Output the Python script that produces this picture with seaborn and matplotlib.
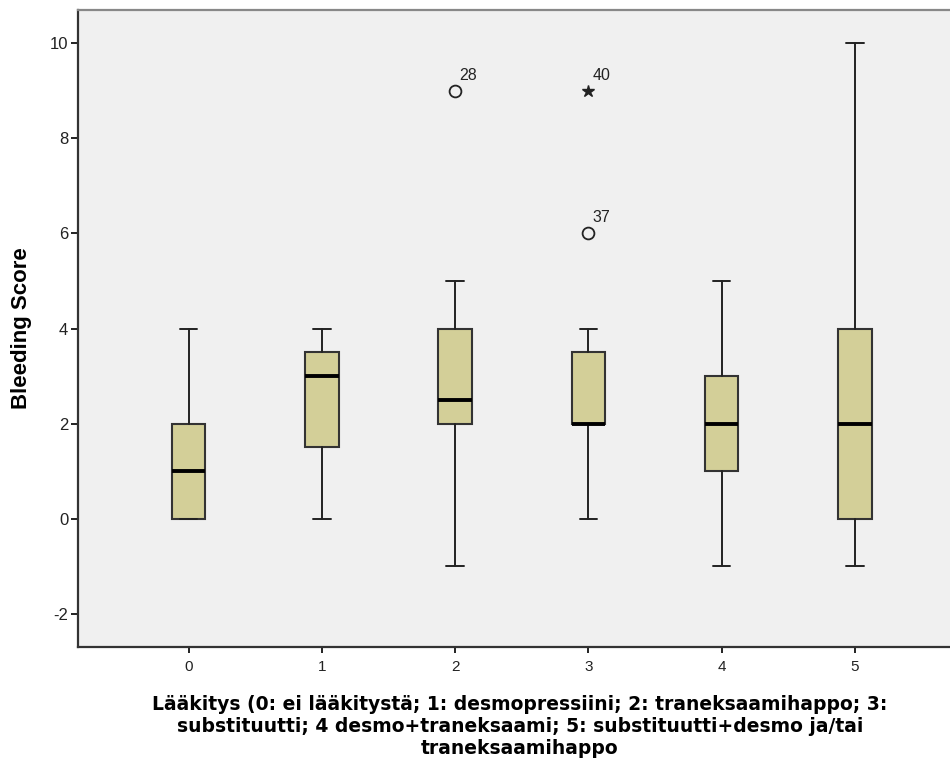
import matplotlib
matplotlib.use("Agg")
import matplotlib.pyplot as plt
import seaborn as sns

# Summary stats
groups = ["0", "1", "2", "3", "4", "5"]
whis_lo = [0, 0, -1, 0, -1, -1]
q1 = [0, 1.5, 2, 2, 1, 0]
medians = [1, 3, 2.5, 2, 2, 2]
q3 = [2, 3.5, 4, 3.5, 3, 4]
whis_hi = [4, 4, 5, 4, 5, 10]

# outliers: group index, value, case id, marker
out_group = [2, 3, 3]
out_value = [9, 6, 9]
out_case = ["28", "37", "40"]
out_marker = ["o", "o", "*"]

x_title = ("Lääkitys (0: ei lääkitystä; 1: desmopressiini; 2: traneksaamihappo; 3:\n"
           "substituutti; 4 desmo+traneksaami; 5: substituutti+desmo ja/tai\n"
           "traneksaamihappo")
y_title = "Bleeding Score"

sns.set_style("ticks")
plt.rcParams["font.family"] = ["Liberation Sans", "DejaVu Sans"]
plt.rcParams["axes.unicode_minus"] = False

fig = plt.figure(figsize=(9.5, 7.65), dpi=100)
ax = fig.add_axes([0.0821, 0.1542, 0.93, 0.8327])
ax.set_facecolor("#F0F0F0")

stats = []
for i, g in enumerate(groups):
    stats.append({
        "label": g, "whislo": whis_lo[i], "q1": q1[i], "med": medians[i],
        "q3": q3[i], "whishi": whis_hi[i], "fliers": [],
    })

ax.bxp(
    stats, positions=list(range(len(groups))), widths=0.25,
    patch_artist=True, showfliers=False,
    boxprops=dict(facecolor="#D3CF98", edgecolor="#333333", linewidth=1.5),
    medianprops=dict(color="black", linewidth=2.8, solid_capstyle="butt"),
    whiskerprops=dict(color="#222222", linewidth=1.4),
    capprops=dict(color="#222222", linewidth=1.4),
    capwidths=0.13,
)

for g, v, c, m in zip(out_group, out_value, out_case, out_marker):
    if m == "o":
        ax.plot(g, v, marker="o", ms=8.5, mfc="none", mec="#222222", mew=1.3, ls="none")
    else:
        ax.plot(g, v, marker="*", ms=9, color="#222222", ls="none")
    ax.annotate(c, (g, v), xytext=(3, 8), textcoords="offset points",
                fontsize=11.5, color="#222222")

ax.set_xlim(-0.83, 5.8)
ax.set_ylim(-2.7, 10.7)
ax.set_yticks([-2, 0, 2, 4, 6, 8, 10])
ax.set_xticks(range(len(groups)))
ax.set_xticklabels(groups)
ax.tick_params(axis="both", direction="out", length=5, width=1.4,
               color="#222222", labelcolor="#222222")
ax.tick_params(axis="x", labelsize=11, pad=5, length=4.5)
ax.tick_params(axis="y", labelsize=12, pad=2)

for side in ["left", "bottom"]:
    ax.spines[side].set_color("#333333")
    ax.spines[side].set_linewidth(1.6)
ax.spines["top"].set_color("#888888")
ax.spines["top"].set_linewidth(1.6)
ax.spines["right"].set_visible(False)

ax.set_ylabel(y_title, fontsize=16, fontweight="bold", labelpad=13, color="black")
ax.set_xlabel(x_title, fontsize=13.5, fontweight="bold", labelpad=15,
              linespacing=1.2, family=["DejaVu Sans"], color="black")

fig.savefig("out.png", dpi=100)
